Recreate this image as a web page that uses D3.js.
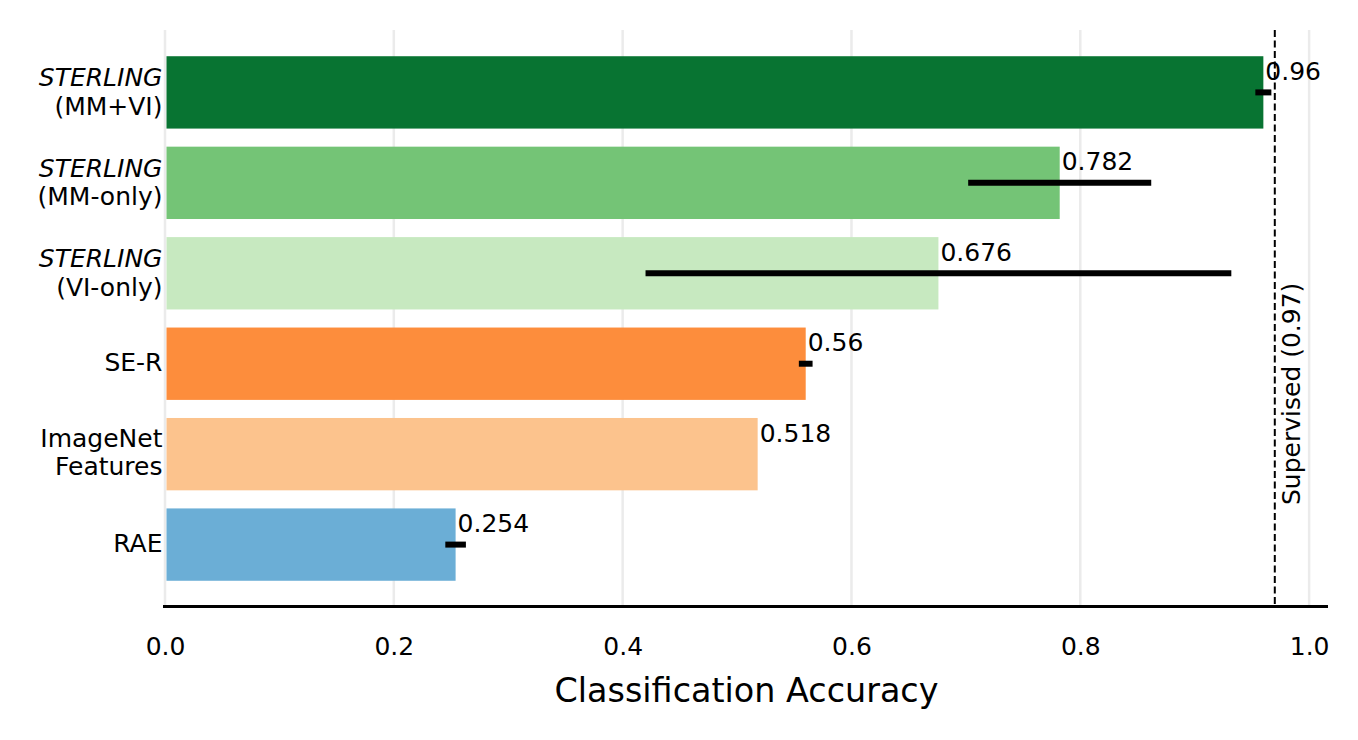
<!DOCTYPE html>
<html>
<head>
<meta charset="utf-8">
<script src="https://cdn.jsdelivr.net/npm/d3@7"></script>
<style>
	body { margin: 0; background: #fff; }
	text { font-family: "DejaVu Sans", sans-serif; fill: #000; }
</style>
</head>
<body>
<svg id="chart" width="1358" height="740"></svg>
<script>
// methods, top to bottom; first line of each label is italic when flagged
var methods = ["STERLING|(MM+VI)", "STERLING|(MM-only)", "STERLING|(VI-only)", "SE-R", "ImageNet|Features", "RAE"];
var italicFirst = [true, true, true, false, false, false];
var accuracy = [0.96, 0.782, 0.676, 0.56, 0.518, 0.254];
var errors = [0.007, 0.08, 0.256, 0.006, 0, 0.009];
var barColors = ["#087432", "#74c476", "#c7e9c0", "#fd8d3c", "#fcc38d", "#6baed6"];
var xTicks = [0, 0.2, 0.4, 0.6, 0.8, 1.0];
var supervised = 0.97;

var svg = d3.select("#chart");
var fs = "25px";

// plot box (window.top is reserved, so use other names)
var pLeft = 165, pRight = 1328, pTop = 30, pBottom = 607;

var x = d3.scaleLinear().domain([0, 1.0165]).range([pLeft, pRight]);
// matplotlib style: bars of height 0.8 on integer slots, 5% margins
var y = d3.scaleLinear().domain([-0.69, 5.69]).range([pTop, pBottom]);
var barH = y(0.8) - y(0);

// grid
svg.append("g").attr("class", "grid")
	.selectAll("line").data(xTicks).enter().append("line")
	.attr("x1", function(d) { return x(d); })
	.attr("x2", function(d) { return x(d); })
	.attr("y1", pTop).attr("y2", pBottom)
	.attr("stroke", "#ebebeb")
	.attr("stroke-width", 2.5);

// bars
svg.append("g").attr("class", "bars")
	.selectAll("rect").data(accuracy).enter().append("rect")
	.attr("x", x(0) + 1.5)
	.attr("y", function(d, i) { return y(i) - barH / 2; })
	.attr("width", function(d) { return x(d) - x(0) - 1.5; })
	.attr("height", barH)
	.attr("fill", function(d, i) { return barColors[i]; });

// error bars
svg.append("g").attr("class", "errs")
	.selectAll("line").data(accuracy).enter()
	.append("line")
	.attr("x1", function(d, i) { return x(d - errors[i]); })
	.attr("x2", function(d, i) { return x(d + errors[i]); })
	.attr("y1", function(d, i) { return y(i); })
	.attr("y2", function(d, i) { return y(i); })
	.attr("stroke", "#000")
	.attr("stroke-width", function(d, i) { return errors[i] > 0 ? 6 : 0; });

// value labels
svg.append("g").attr("class", "vals")
	.selectAll("text").data(accuracy).enter().append("text")
	.attr("x", function(d) { return x(d) + 2; })
	.attr("y", function(d, i) { return y(i) - 12.5; })
	.style("font-size", fs)
	.text(function(d) { return String(d); });

// supervised reference line
svg.append("line")
	.attr("x1", x(supervised)).attr("x2", x(supervised))
	.attr("y1", pTop).attr("y2", pBottom)
	.attr("stroke", "#000")
	.attr("stroke-width", 2)
	.attr("stroke-dasharray", "7,3.5");

svg.append("text")
	.attr("transform", "translate(" + (x(supervised) + 25) + "," + 505 + ") rotate(-90)")
	.style("font-size", fs)
	.text("Supervised (" + supervised + ")");

// category labels
var ylab = svg.append("g").attr("class", "ylabels")
	.selectAll("text").data(methods).enter().append("text")
	.attr("text-anchor", "end")
	.style("font-size", fs)
	.attr("y", function(d, i) {
		if (d.indexOf("|") < 0) return y(i) + 7.5;
		return italicFirst[i] ? y(i) - 6 : y(i) - 6.8;
	});

ylab.each(function(d, i) {
	var parts = d.split("|");
	var t = d3.select(this);
	parts.forEach(function(p, k) {
		t.append("tspan")
			.attr("x", 162.5)
			.attr("dy", k == 0 ? 0 : (p.indexOf("(") >= 0 ? 28.3 : 27.6))
			.style("font-style", (k == 0 && italicFirst[i]) ? "italic" : "normal")
			.text(p);
	});
});

// x axis
var xAxis = d3.axisBottom(x).tickValues(xTicks).tickSize(0).tickPadding(0)
	.tickFormat(d3.format(".1f"));

var ax = svg.append("g").attr("transform", "translate(0," + pBottom + ")").call(xAxis);
ax.select(".domain").remove();
ax.selectAll("text")
	.attr("y", 48).attr("dy", null)
	.style("font-size", fs)
	.style("font-family", "DejaVu Sans, sans-serif")
	.attr("fill", "#000");

svg.append("line")
	.attr("x1", pLeft - 2).attr("x2", pRight)
	.attr("y1", pBottom - 0.5).attr("y2", pBottom - 0.5)
	.attr("stroke", "#000")
	.attr("stroke-width", 3);

svg.append("text")
	.attr("x", (pLeft + pRight) / 2)
	.attr("y", 702)
	.attr("text-anchor", "middle")
	.style("font-size", "33.4px")
	.text("Classification Accuracy");
</script>
</body>
</html>
